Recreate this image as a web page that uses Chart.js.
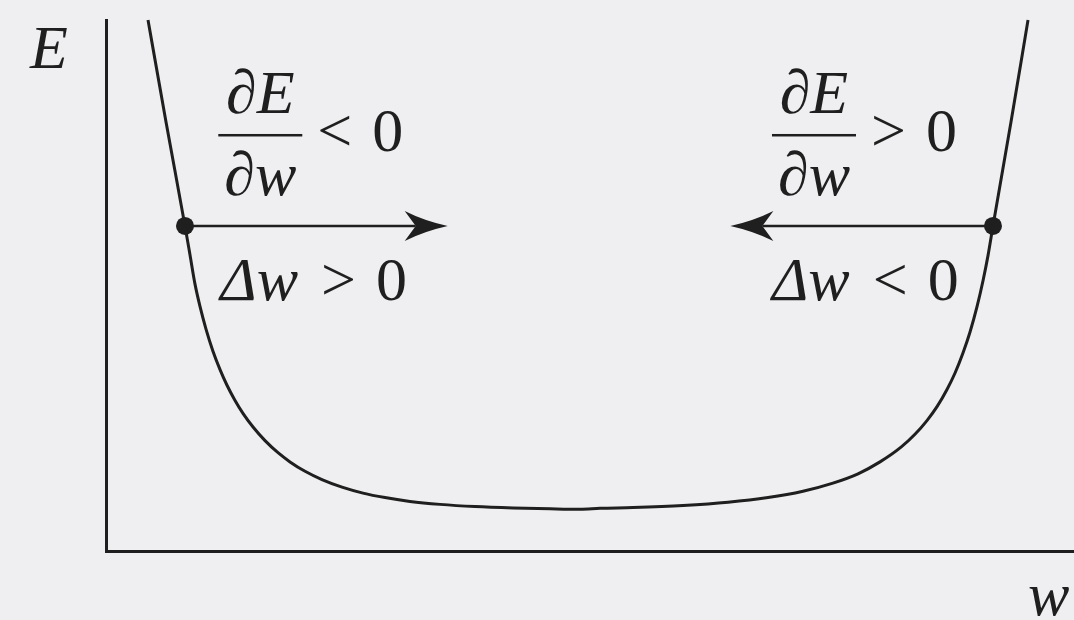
<!DOCTYPE html>
<html>
<head>
<meta charset="utf-8">
<script src="https://cdn.jsdelivr.net/npm/chart.js@4.4.1/dist/chart.umd.min.js"></script>
<style>
  html, body { margin: 0; padding: 0; background: #efeef0; overflow: hidden; }
  #wrap { width: 1074px; height: 620px; position: relative; }
</style>
</head>
<body>
<div id="wrap"><canvas id="errorChart"></canvas></div>
<script>
// error E as a function of the weight w (a valley with steep walls)
const weights = [4.34, 6.20, 8.16, 8.68, 9.19, 9.71, 10.33, 11.05, 11.78, 12.50, 13.33, 14.15, 15.19, 16.43, 17.77,
                 19.01, 20.56, 22.31, 24.38, 26.55, 28.82, 31.40, 34.50, 38.12, 42.05, 45.87, 48.97,
                 51.03, 54.44, 59.61, 64.26, 68.39, 72.00, 75.10, 77.69, 79.96, 82.13, 83.57, 84.81, 85.85,
                 86.88, 87.71, 88.53, 89.26, 89.98, 90.60, 91.12, 91.63, 93.49, 95.25];
const errors  = [100, 80.79, 61.21, 55.74, 50.30, 46.06, 41.79, 37.63, 34.16, 31.22, 28.36, 25.93, 23.35, 20.79, 18.51,
                 16.78, 15.01, 13.45, 12.02, 10.90, 10.06, 9.34, 8.78, 8.36, 8.10, 7.95, 7.87,
                 8.04, 8.19, 8.57, 9.17, 10.06, 11.26, 12.79, 14.54, 16.78, 19.55, 21.98, 24.56, 27.18,
                 30.41, 33.52, 37.29, 41.24, 46.01, 50.90, 55.67, 61.21, 80.79, 100];

// one sample weight on each wall, and where its update step points
const sampleW = [8.16, 91.63];
const sampleE = [61.21, 61.21];
const stepTo  = [35.3, 64.5];

const ink = '#1f1f1f';
const bg = '#efeef0';
const serif = '"Liberation Serif", "Times New Roman", serif';
const fs = 62;

function setFont(ctx, italic) {
  ctx.font = (italic ? 'italic ' : '') + fs + 'px ' + serif;
}

// parts: [text, italic] pairs or a number for extra space
function runWidth(ctx, parts) {
  let w = 0;
  parts.forEach(p => {
    if (typeof p === 'number') { w += p; return; }
    setFont(ctx, p[1]);
    w += ctx.measureText(p[0]).width;
  });
  return w;
}

function drawRun(ctx, x, y, parts) {
  parts.forEach(p => {
    if (typeof p === 'number') { x += p; return; }
    setFont(ctx, p[1]);
    ctx.fillText(p[0], x, y);
    x += ctx.measureText(p[0]).width;
  });
  return x;
}

// dE/dw over a bar starting at (x, y), then the relation to zero
function fraction(ctx, x, y, rel) {
  const num = [['∂', false], ['E', true]];
  const den = [['∂', false], ['w', true]];
  const bw = 84;
  drawRun(ctx, x + (bw - runWidth(ctx, num)) / 2, y - 22, num);
  drawRun(ctx, x + (bw - runWidth(ctx, den)) / 2, y + 60, den);
  ctx.fillRect(x, y - 1.25, bw, 2.5);
  drawRun(ctx, x + bw + 15, y + 16, [[rel, false], 20, ['0', false]]);
}

function arrow(ctx, x0, x1, y) {
  const dir = Math.sign(x1 - x0);
  const L = 43, H = 15, notch = 11;
  ctx.beginPath();
  ctx.moveTo(x0, y);
  ctx.lineTo(x1 - dir * (L - notch), y);
  ctx.stroke();
  ctx.beginPath();
  ctx.moveTo(x1, y);
  ctx.quadraticCurveTo(x1 - dir * L * 0.55, y - H * 0.35, x1 - dir * L, y - H);
  ctx.lineTo(x1 - dir * (L - notch), y);
  ctx.lineTo(x1 - dir * L, y + H);
  ctx.quadraticCurveTo(x1 - dir * L * 0.55, y + H * 0.35, x1, y);
  ctx.fill();
}

const annotations = {
  id: 'annotations',
  beforeDraw(chart) {
    const ctx = chart.ctx;
    ctx.save();
    ctx.fillStyle = bg;
    ctx.fillRect(0, 0, chart.width, chart.height);
    ctx.restore();
  },
  afterDatasetsDraw(chart) {
    const ctx = chart.ctx;
    const xs = chart.scales.x, ys = chart.scales.y;
    ctx.save();
    ctx.fillStyle = ink;
    ctx.strokeStyle = ink;
    ctx.lineWidth = 2.6;
    ctx.textBaseline = 'alphabetic';

    sampleW.forEach((w, i) => {
      arrow(ctx, xs.getPixelForValue(w), xs.getPixelForValue(stepTo[i]), ys.getPixelForValue(sampleE[i]));
    });

    // slope and step labels above and below each arrow
    const fy = ys.getPixelForValue(78.3);
    const dy = ys.getPixelForValue(47.3);
    const lx = xs.getPixelForValue(11.6);
    const rx = xs.getPixelForValue(68.8);
    fraction(ctx, lx, fy, '<');
    fraction(ctx, rx, fy, '>');
    drawRun(ctx, lx + 2, dy, [['Δ', true], ['w', true], 23, ['>', false], 20, ['0', false]]);
    drawRun(ctx, rx, dy, [['Δ', true], ['w', true], 23, ['<', false], 20, ['0', false]]);

    // axis names
    drawRun(ctx, 30, 68, [['E', true]]);
    drawRun(ctx, 1028, 615, [['w', true]]);
    ctx.restore();
  }
};

function build() {
  new Chart(document.getElementById('errorChart'), {
    type: 'line',
    data: {
      datasets: [{
        data: weights.map((w, i) => ({ x: w, y: errors[i] })),
        borderColor: ink,
        borderWidth: 3,
        pointRadius: 0,
        cubicInterpolationMode: 'monotone',
        fill: false
      }, {
        data: sampleW.map((w, i) => ({ x: w, y: sampleE[i] })),
        showLine: false,
        pointRadius: 9,
        pointBackgroundColor: ink,
        pointBorderWidth: 0
      }]
    },
    options: {
      responsive: true,
      maintainAspectRatio: false,
      animation: false,
      events: [],
      clip: false,
      layout: { autoPadding: false, padding: { left: 106, top: 20, right: 0, bottom: 69 } },
      plugins: { legend: { display: false }, tooltip: { enabled: false } },
      scales: {
        x: {
          type: 'linear', min: 0, max: 100,
          ticks: { display: false },
          grid: { display: false, drawTicks: false },
          border: { display: true, color: ink, width: 3 }
        },
        y: {
          type: 'linear', min: 0, max: 100,
          ticks: { display: false },
          grid: { display: false, drawTicks: false },
          border: { display: true, color: ink, width: 3 }
        }
      }
    },
    plugins: [annotations]
  });
}

Promise.all([
  document.fonts.load('62px "Liberation Serif"'),
  document.fonts.load('italic 62px "Liberation Serif"')
]).then(build, build);
</script>
</body>
</html>
